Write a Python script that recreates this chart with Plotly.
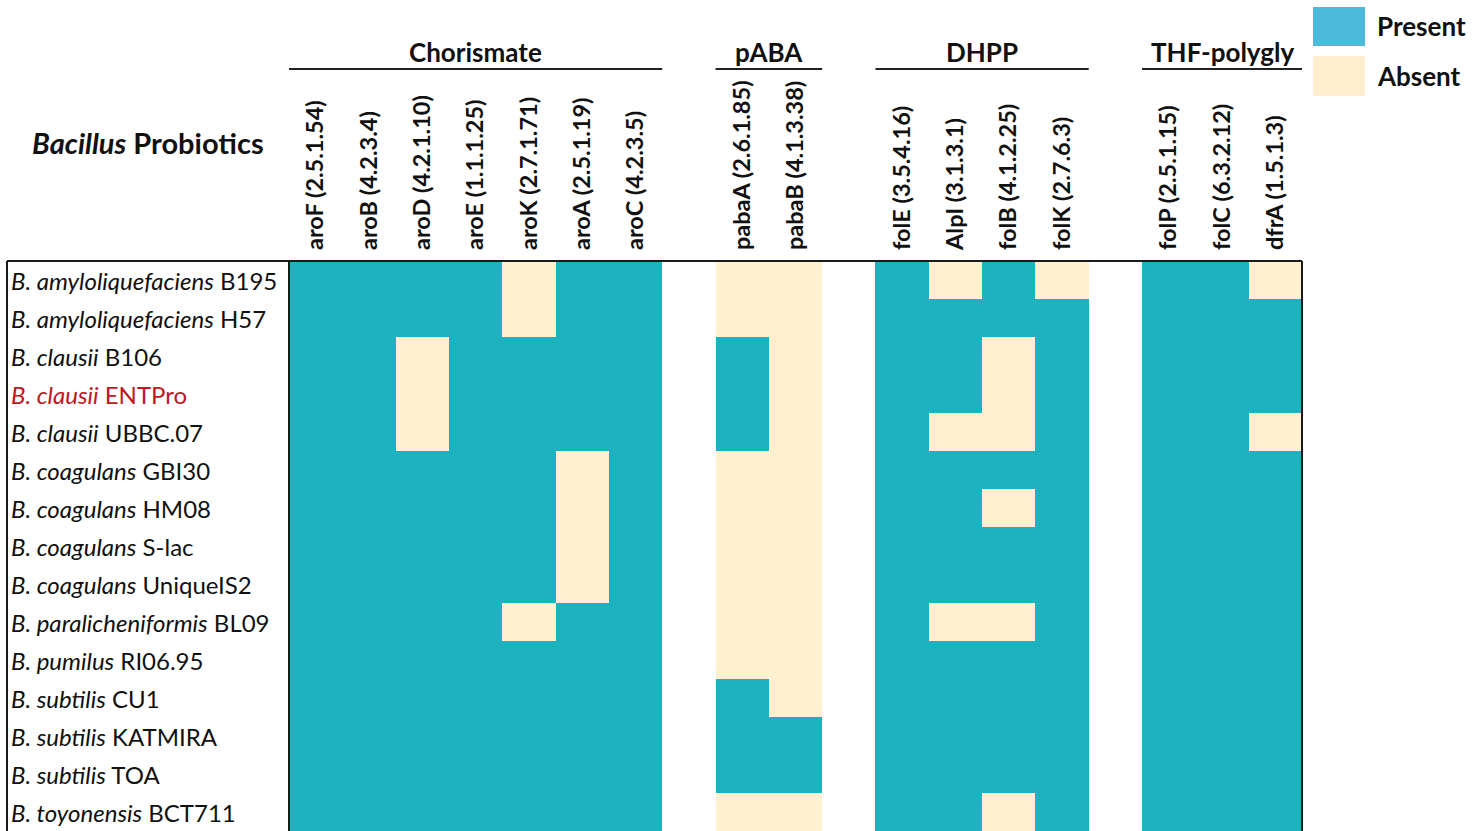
import plotly.graph_objects as go

# ---- data -------------------------------------------------------------
strains = [
    ("B. amyloliquefaciens", "B195"),
    ("B. amyloliquefaciens", "H57"),
    ("B. clausii", "B106"),
    ("B. clausii", "ENTPro"),
    ("B. clausii", "UBBC.07"),
    ("B. coagulans", "GBI30"),
    ("B. coagulans", "HM08"),
    ("B. coagulans", "S-lac"),
    ("B. coagulans", "UniqueIS2"),
    ("B. paralicheniformis", "BL09"),
    ("B. pumilus", "RI06.95"),
    ("B. subtilis", "CU1"),
    ("B. subtilis", "KATMIRA"),
    ("B. subtilis", "TOA"),
    ("B. toyonensis", "BCT711"),
]
highlight_strain = "ENTPro"

groups = ["Chorismate", "pABA", "DHPP", "THF-polygly"]
genes_chorismate = ["aroF (2.5.1.54)", "aroB (4.2.3.4)", "aroD (4.2.1.10)", "aroE (1.1.1.25)",
                    "aroK (2.7.1.71)", "aroA (2.5.1.19)", "aroC (4.2.3.5)"]
genes_paba = ["pabaA (2.6.1.85)", "pabaB (4.1.3.38)"]
genes_dhpp = ["folE (3.5.4.16)", "AlpI (3.1.3.1)", "folB (4.1.2.25)", "folK (2.7.6.3)"]
genes_thf = ["folP (2.5.1.15)", "folC (6.3.2.12)", "dfrA (1.5.1.3)"]

# 1 = present, 0 = absent (one row per strain)
chorismate = [
    [1, 1, 1, 1, 0, 1, 1],
    [1, 1, 1, 1, 0, 1, 1],
    [1, 1, 0, 1, 1, 1, 1],
    [1, 1, 0, 1, 1, 1, 1],
    [1, 1, 0, 1, 1, 1, 1],
    [1, 1, 1, 1, 1, 0, 1],
    [1, 1, 1, 1, 1, 0, 1],
    [1, 1, 1, 1, 1, 0, 1],
    [1, 1, 1, 1, 1, 0, 1],
    [1, 1, 1, 1, 0, 1, 1],
    [1, 1, 1, 1, 1, 1, 1],
    [1, 1, 1, 1, 1, 1, 1],
    [1, 1, 1, 1, 1, 1, 1],
    [1, 1, 1, 1, 1, 1, 1],
    [1, 1, 1, 1, 1, 1, 1],
]
paba = [
    [0, 0], [0, 0], [1, 0], [1, 0], [1, 0], [0, 0], [0, 0], [0, 0],
    [0, 0], [0, 0], [0, 0], [1, 0], [1, 1], [1, 1], [0, 0],
]
dhpp = [
    [1, 0, 1, 0],
    [1, 1, 1, 1],
    [1, 1, 0, 1],
    [1, 1, 0, 1],
    [1, 0, 0, 1],
    [1, 1, 1, 1],
    [1, 1, 0, 1],
    [1, 1, 1, 1],
    [1, 1, 1, 1],
    [1, 0, 0, 1],
    [1, 1, 1, 1],
    [1, 1, 1, 1],
    [1, 1, 1, 1],
    [1, 1, 1, 1],
    [1, 1, 0, 1],
]
thf = [
    [1, 1, 0], [1, 1, 1], [1, 1, 1], [1, 1, 1], [1, 1, 0], [1, 1, 1], [1, 1, 1],
    [1, 1, 1], [1, 1, 1], [1, 1, 1], [1, 1, 1], [1, 1, 1], [1, 1, 1], [1, 1, 1], [1, 1, 1],
]

# ---- styling ----------------------------------------------------------
TEAL = "#1EB1BF"
BEIGE = "#FFF1CF"
LEG_PRESENT = "#4DB9DB"
LEG_ABSENT = "#FFEFCD"
FONT = "Lato, Carlito, Calibri, sans-serif"
W, H = 1483, 831
L, R, T, B = 289, 1302, 261, 831     # plot area in pixels

def px_x(p):
    return (p - L) / (R - L)

def px_y(p):
    return (B - p) / (B - T)

# ---- assemble the matrix with one blank column between groups ----------
blocks = [(genes_chorismate, chorismate), (genes_paba, paba), (genes_dhpp, dhpp), (genes_thf, thf)]
z = [[] for _ in strains]
tickvals, ticktext, group_spans = [], [], []
col = 0
for bi, (genes, vals) in enumerate(blocks):
    start = col
    for gi, g in enumerate(genes):
        for ri in range(len(strains)):
            z[ri].append(vals[ri][gi])
        tickvals.append(col)
        ticktext.append(g)
        col += 1
    group_spans.append((start - 0.5, col - 0.5))
    if bi < len(blocks) - 1:
        for ri in range(len(strains)):
            z[ri].append(None)
        col += 1
ncols = col

fig = go.Figure(go.Heatmap(
    z=z,
    x=list(range(ncols)),
    y=list(range(len(strains))),
    zmin=0, zmax=1,
    colorscale=[[0, BEIGE], [0.5, BEIGE], [0.5, TEAL], [1, TEAL]],
    showscale=False,
    hoverongaps=False,
))

annotations = []
shapes = []

# strain labels, left aligned inside the bordered box
for i, (sp, st) in enumerate(strains):
    color = "#C0161E" if st == highlight_strain else "#111111"
    annotations.append(dict(
        x=px_x(9), xref="paper", y=i, yref="y",
        text=f"<i>{sp}</i> {st}", showarrow=False,
        xanchor="left", yanchor="middle",
        font=dict(family=FONT, size=24, color=color),
    ))

# row-header title
annotations.append(dict(
    x=px_x(148), xref="paper", y=px_y(142), yref="paper",
    text="<b><i>Bacillus</i> Probiotics</b>", showarrow=False,
    xanchor="center", yanchor="middle",
    font=dict(family=FONT, size=29, color="#111111"),
))

# group titles with an underline spanning their columns
for name, (x0, x1) in zip(groups, group_spans):
    annotations.append(dict(
        x=(x0 + x1) / 2, xref="x", y=px_y(52), yref="paper",
        text=f"<b>{name}</b>", showarrow=False,
        xanchor="center", yanchor="middle",
        font=dict(family=FONT, size=26, color="#111111"),
    ))
    shapes.append(dict(type="line", xref="x", yref="paper",
                       x0=x0, x1=x1, y0=px_y(69), y1=px_y(69),
                       line=dict(color="#222222", width=2)))

# table borders
border = dict(color="#1a1a1a", width=2)
shapes += [
    dict(type="line", xref="paper", yref="paper", x0=px_x(7), x1=1, y0=1, y1=1, line=border),
    dict(type="line", xref="paper", yref="paper", x0=px_x(7), x1=px_x(7), y0=0, y1=1, line=border),
    dict(type="line", xref="paper", yref="paper", x0=0, x1=0, y0=0, y1=1, line=border),
    dict(type="line", xref="paper", yref="paper", x0=1, x1=1, y0=0, y1=1, line=border),
]

# legend swatches
for label, colr, (y0, y1) in [("Present", LEG_PRESENT, (7, 46)), ("Absent", LEG_ABSENT, (56, 96))]:
    shapes.append(dict(type="rect", xref="paper", yref="paper",
                       x0=px_x(1313), x1=px_x(1365), y0=px_y(y1), y1=px_y(y0),
                       fillcolor=colr, line=dict(width=0)))
    annotations.append(dict(
        x=px_x(1375), xref="paper", y=px_y((y0 + y1) / 2), yref="paper",
        text=f"<b>{label}</b>", showarrow=False,
        xanchor="left", yanchor="middle",
        font=dict(family=FONT, size=26, color="#111111"),
    ))

fig.update_layout(
    width=W, height=H,
    margin=dict(l=L, r=W - R, t=T, b=H - B, pad=0),
    paper_bgcolor="white", plot_bgcolor="white",
    annotations=annotations, shapes=shapes,
    showlegend=False,
    xaxis=dict(
        range=[-0.5, ncols - 0.5], side="top",
        tickmode="array", tickvals=tickvals,
        ticktext=[f"<b>{t}</b>" for t in ticktext],
        tickangle=-90, ticks="", ticklabelstandoff=10,
        tickfont=dict(family=FONT, size=23.5, color="#111111"),
        showgrid=False, zeroline=False, showline=False, automargin=False,
        fixedrange=True,
    ),
    yaxis=dict(
        range=[len(strains) - 0.5, -0.5],
        showticklabels=False, ticks="",
        showgrid=False, zeroline=False, showline=False, automargin=False,
        fixedrange=True,
    ),
)

fig.write_html("out.html", config={"displayModeBar": False})
